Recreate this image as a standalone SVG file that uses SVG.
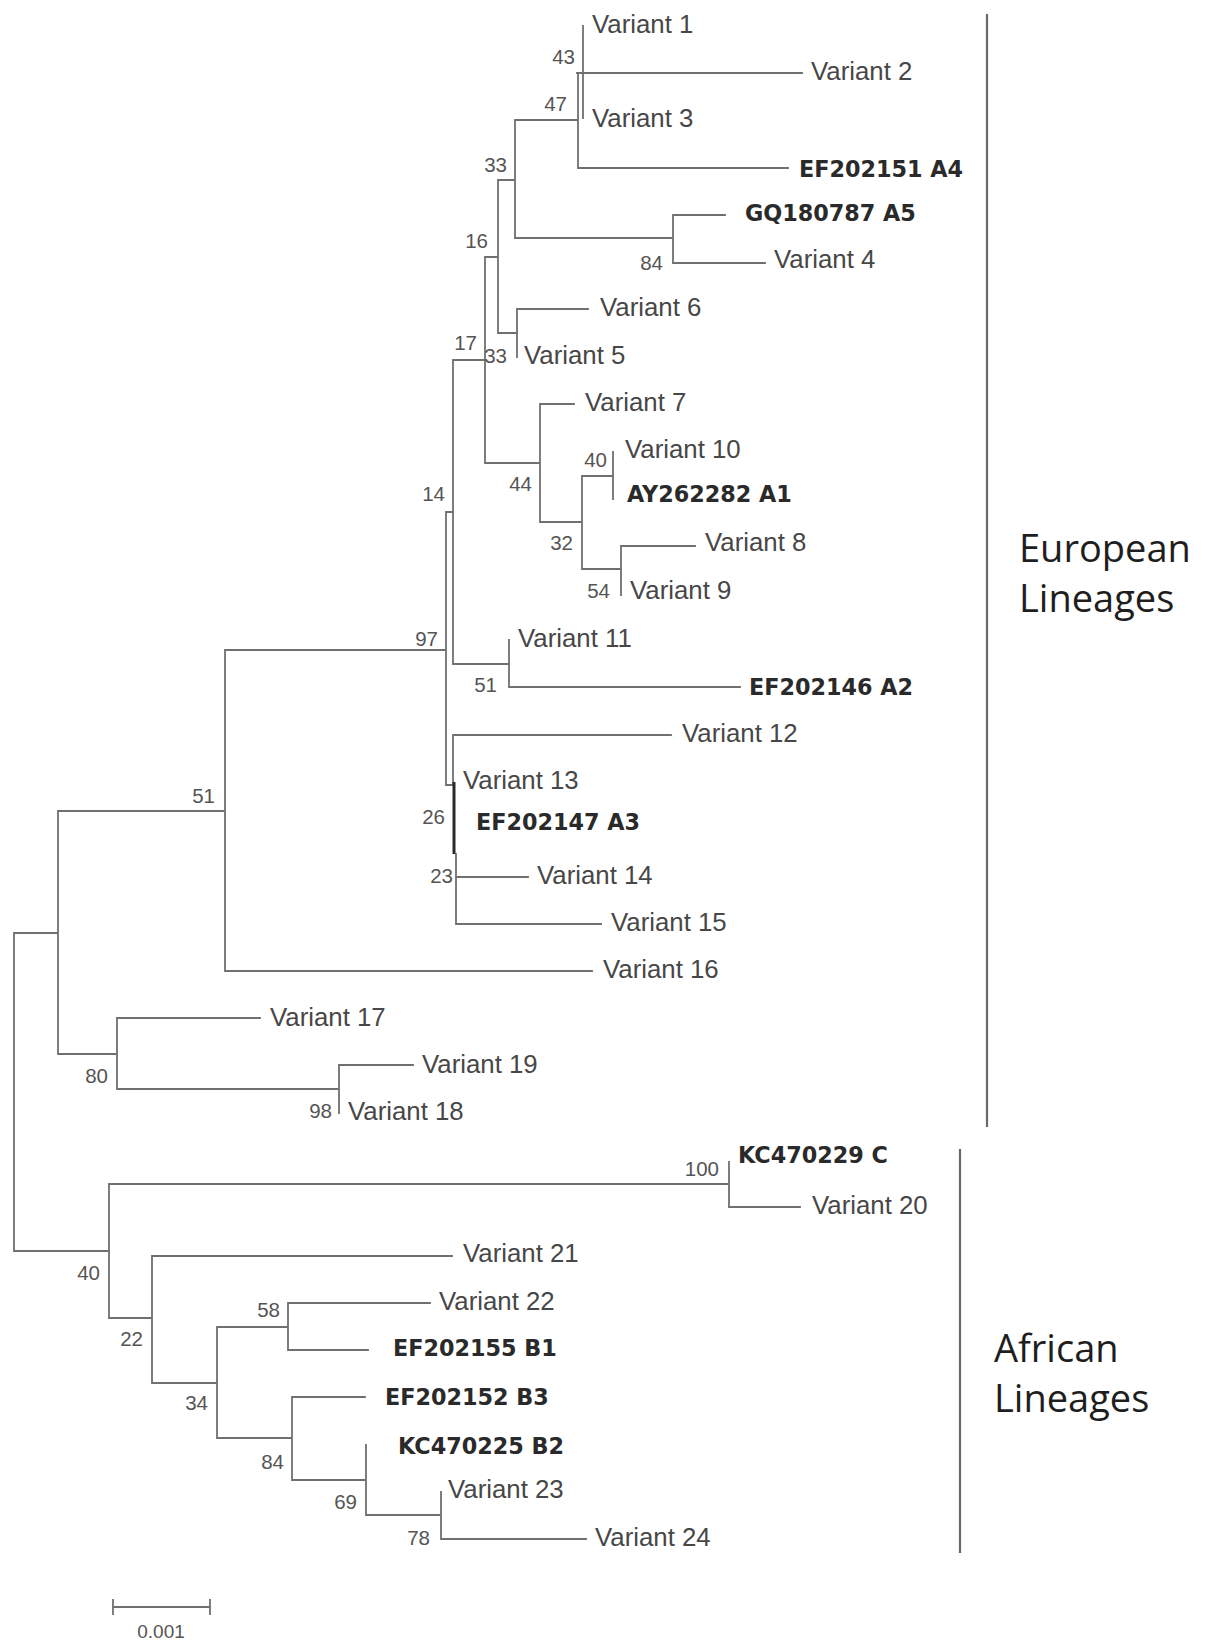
<svg xmlns="http://www.w3.org/2000/svg" width="1205" height="1650" viewBox="0 0 1205 1650">
<style>
.br{stroke:#707070;stroke-width:1.8;fill:none;stroke-linecap:square}
.thick{stroke:#2a2a2a;stroke-width:3;fill:none}
.bk{stroke:#6a6a6a;stroke-width:2.2;fill:none}
.lv{font-family:"Liberation Sans",Arial,sans-serif;font-size:25.8px;fill:#474747}
.lb{font-family:"DejaVu Sans","Liberation Sans",sans-serif;font-size:22.3px;font-weight:bold;fill:#2a2a2a}
.bs{font-family:"Liberation Sans",Arial,sans-serif;font-size:20.5px;fill:#555;text-anchor:end}
.grp{font-family:"Open Sans","Noto Sans",sans-serif;font-size:38px;fill:#1e1e1e}
.sc{font-family:"Liberation Sans",Arial,sans-serif;font-size:19px;fill:#555;text-anchor:middle}
</style>
<rect width="1205" height="1650" fill="#fff"/>
<g id="connectors">
<path class="br" d="M583 26V118 M577 73H802 M578 73V168 M515 120H578 M578 168H788
M515 120V238 M515 238H673 M673 215V263 M673 215H725 M673 263H765
M498 180H515 M498 180V333 M498 333H517 M517 309V357 M517 309H588
M485 257H498 M485 257V463 M485 463H540 M540 404V522 M540 404H574
M540 522H582 M582 476V569 M582 476H613 M613 452V499 M582 569H621 M621 546V595 M621 546H695
M453 360H485 M453 360V664 M453 664H509 M509 640V687 M509 687H740
M446 512H453 M446 512V785 M225 650H446 M446 785H453 M453 735V785 M453 735H671
M456 854V924 M456 877H528 M456 924H601
M225 650V971 M225 971H592 M58 811H225 M58 811V1054 M58 1054H117
M117 1018V1089 M117 1018H260 M117 1089H339 M339 1065V1113 M339 1065H413
M14 933H58 M14 933V1251 M14 1251H109 M109 1184V1318 M109 1184H729 M729 1162V1207 M729 1207H800
M109 1318H152 M152 1256V1383 M152 1256H452 M152 1383H217 M217 1327V1438
M217 1327H288 M288 1303V1350 M288 1303H430 M288 1350H368
M217 1438H292 M292 1397V1480 M292 1397H365 M292 1480H366 M366 1445V1515 M366 1515H441 M441 1492V1539 M441 1539H586"/>
<path class="thick" d="M454 782V854"/>
</g>
<g id="leaves">
<text class="lv" x="592" y="33">Variant 1</text>
<text class="lv" x="811" y="80">Variant 2</text>
<text class="lv" x="592" y="127">Variant 3</text>
<text class="lb" x="799" y="177">EF202151 A4</text>
<text class="lb" x="745" y="221">GQ180787 A5</text>
<text class="lv" x="774" y="268">Variant 4</text>
<text class="lv" x="600" y="316">Variant 6</text>
<text class="lv" x="524" y="364">Variant 5</text>
<text class="lv" x="585" y="411">Variant 7</text>
<text class="lv" x="625" y="458">Variant 10</text>
<text class="lb" x="627" y="502">AY262282 A1</text>
<text class="lv" x="705" y="551">Variant 8</text>
<text class="lv" x="630" y="599">Variant 9</text>
<text class="lv" x="518" y="647">Variant 11</text>
<text class="lb" x="749" y="695">EF202146 A2</text>
<text class="lv" x="682" y="742">Variant 12</text>
<text class="lv" x="463" y="789">Variant 13</text>
<text class="lb" x="476" y="830">EF202147 A3</text>
<text class="lv" x="537" y="884">Variant 14</text>
<text class="lv" x="611" y="931">Variant 15</text>
<text class="lv" x="603" y="978">Variant 16</text>
<text class="lv" x="270" y="1026">Variant 17</text>
<text class="lv" x="422" y="1073">Variant 19</text>
<text class="lv" x="348" y="1120">Variant 18</text>
<text class="lb" x="738" y="1163">KC470229 C</text>
<text class="lv" x="812" y="1214">Variant 20</text>
<text class="lv" x="463" y="1262">Variant 21</text>
<text class="lv" x="439" y="1310">Variant 22</text>
<text class="lb" x="393" y="1356">EF202155 B1</text>
<text class="lb" x="385" y="1405">EF202152 B3</text>
<text class="lb" x="398" y="1454">KC470225 B2</text>
<text class="lv" x="448" y="1498">Variant 23</text>
<text class="lv" x="595" y="1546">Variant 24</text>
</g>
<g id="support">
<text class="bs" x="575" y="64">43</text>
<text class="bs" x="567" y="111">47</text>
<text class="bs" x="507" y="172">33</text>
<text class="bs" x="488" y="248">16</text>
<text class="bs" x="663" y="270">84</text>
<text class="bs" x="477" y="350">17</text>
<text class="bs" x="507" y="363">33</text>
<text class="bs" x="607" y="467">40</text>
<text class="bs" x="532" y="491">44</text>
<text class="bs" x="445" y="501">14</text>
<text class="bs" x="573" y="550">32</text>
<text class="bs" x="610" y="598">54</text>
<text class="bs" x="438" y="646">97</text>
<text class="bs" x="497" y="692">51</text>
<text class="bs" x="215" y="803">51</text>
<text class="bs" x="445" y="824">26</text>
<text class="bs" x="453" y="883">23</text>
<text class="bs" x="108" y="1083">80</text>
<text class="bs" x="332" y="1118">98</text>
<text class="bs" x="719" y="1176">100</text>
<text class="bs" x="100" y="1280">40</text>
<text class="bs" x="280" y="1317">58</text>
<text class="bs" x="143" y="1346">22</text>
<text class="bs" x="208" y="1410">34</text>
<text class="bs" x="284" y="1469">84</text>
<text class="bs" x="357" y="1509">69</text>
<text class="bs" x="430" y="1545">78</text>
</g>
<g id="european">
<path class="bk" d="M987 14V1127"/>
<text class="grp" x="1019" y="562">European</text>
<text class="grp" x="1019" y="612">Lineages</text>
</g>
<g id="african">
<path class="bk" d="M960 1149V1553"/>
<text class="grp" x="994" y="1362">African</text>
<text class="grp" x="994" y="1412">Lineages</text>
</g>
<g id="scale">
<path class="br" d="M113 1607H210 M113 1600V1614 M210 1600V1614"/>
<text class="sc" x="161" y="1638">0.001</text>
</g>
</svg>
